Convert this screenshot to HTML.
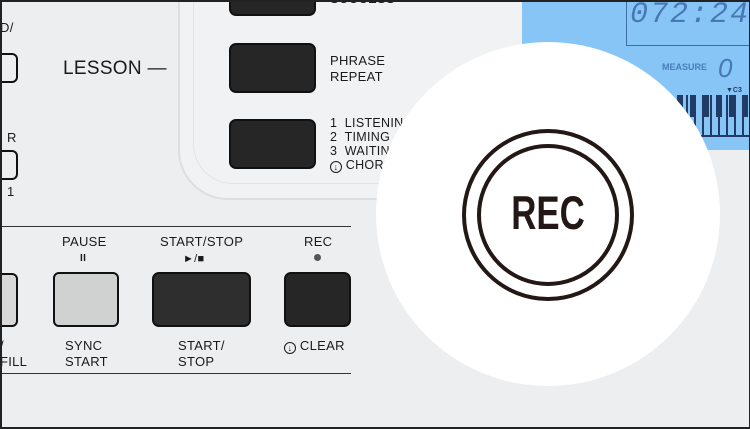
<!DOCTYPE html>
<html><head><meta charset="utf-8"><style>
body{margin:0}
#c{position:relative;width:750px;height:429px;overflow:hidden;background:#eceef0;font-family:"Liberation Sans",sans-serif;color:#222}
.t{position:absolute;font-size:13px;line-height:16px;color:#1a1a1a;letter-spacing:0.3px}
.b{position:absolute;background:#262626;border:2px solid #111;border-radius:7px;box-sizing:border-box}
.ol{position:absolute;border:2px solid #111;border-radius:6px;box-sizing:border-box}
.ci{display:inline-block;width:10px;height:10px;border:1.5px solid #1a1a1a;border-radius:50%;font-size:9px;line-height:10px;text-align:center;vertical-align:-1px;font-weight:bold}
</style></head><body><div id="c">
<div style="position:absolute;left:178px;top:-20px;width:420px;height:218px;border:2px solid #dcdee0;border-radius:0 0 0 50px;border-top:none;border-right:none;background:#f1f2f3"></div>
<div style="position:absolute;left:193px;top:-20px;width:400px;height:203px;border:1px solid #e2e3e5;border-radius:0 0 0 40px;border-top:none;border-right:none"></div>
<div class="b" style="left:229px;top:-10px;width:87px;height:26px"></div>
<div class="t" style="left:330px;top:-9px">SUCCESS</div>
<div class="b" style="left:229px;top:43px;width:87px;height:50px"></div>
<div class="t" style="left:330px;top:53px">PHRASE<br>REPEAT</div>
<div class="b" style="left:229px;top:119px;width:87px;height:50px"></div>
<div class="t" style="left:330px;top:116px;line-height:14px;font-size:12.5px">1&nbsp; LISTENING<br>2&nbsp; TIMING<br>3&nbsp; WAITING<br><span class="ci">↓</span> CHORD DICT.</div>
<div class="t" style="left:63px;top:58px;font-size:19px;line-height:22px">LESSON —</div>
<div class="t" style="left:0px;top:20px">D/</div>
<div class="ol" style="left:-10px;top:53px;width:28px;height:30px"></div>
<div class="t" style="left:7px;top:130px">R</div>
<div class="ol" style="left:-10px;top:150px;width:28px;height:30px"></div>
<div class="t" style="left:7px;top:184px">1</div>
<div style="position:absolute;left:0;top:226px;width:351px;height:1px;background:#333"></div>
<div style="position:absolute;left:0;top:373px;width:351px;height:1px;background:#333"></div>
<div class="t" style="left:62px;top:234px">PAUSE</div>
<div class="t" style="left:80px;top:251px;font-size:10px;font-weight:bold">II</div>
<div class="t" style="left:160px;top:234px">START/STOP</div>
<div class="t" style="left:183px;top:251px;font-size:11px">&#9658;/&#9632;</div>
<div class="t" style="left:304px;top:234px">REC</div>
<div style="position:absolute;left:314px;top:254px;width:7px;height:7px;border-radius:50%;background:#555"></div>
<div class="ol" style="left:-10px;top:273px;width:28px;height:54px;background:#d8d8d8"></div>
<div class="ol" style="left:53px;top:272px;width:66px;height:55px;background:#d0d1d1"></div>
<div class="b" style="left:152px;top:272px;width:99px;height:55px;background:#2e2e2e"></div>
<div class="b" style="left:284px;top:272px;width:67px;height:55px"></div>
<div class="t" style="left:0px;top:338px">/<br>FILL</div>
<div class="t" style="left:65px;top:338px">SYNC<br>START</div>
<div class="t" style="left:178px;top:338px">START/<br>STOP</div>
<div class="t" style="left:284px;top:338px"><span class="ci">↓</span> CLEAR</div>
<div style="position:absolute;left:522px;top:0;width:228px;height:150px;background:#86c5f6"></div>
<div style="position:absolute;left:626px;top:0;width:1px;height:45px;background:#3d6fa6"></div>
<div style="position:absolute;left:626px;top:45px;width:124px;height:1px;background:#3d6fa6"></div>
<div style="position:absolute;left:630px;top:-2px;font-family:'Liberation Mono',monospace;font-style:italic;font-size:30px;color:#4878b4;letter-spacing:2px">072:24</div>
<div style="position:absolute;left:662px;top:62px;font-size:9px;font-weight:bold;color:#4b7db8">MEASURE</div>
<div style="position:absolute;left:718px;top:53px;font-style:italic;font-size:26px;color:#4878b4">0</div>
<div style="position:absolute;left:672px;top:95px;width:78px;height:40px;background:repeating-linear-gradient(90deg,#86c5f6 0 6px,#1f3b66 6px 8px);border-bottom:2px solid #1f3b66"></div>
<div style="position:absolute;left:672px;top:95px;width:78px;height:22px;background:repeating-linear-gradient(90deg,transparent 0 5px,#1f3b66 5px 11px,transparent 11px 13px)"></div>
<div style="position:absolute;left:726px;top:87px;font-size:7px;font-weight:bold;color:#1f3b66">▼C3</div>
<div style="position:absolute;left:376px;top:42px;width:344px;height:344px;border-radius:50%;background:#fff"></div>
<div style="position:absolute;left:462px;top:129px;width:172px;height:172px;border-radius:50%;border:4px solid #231815;box-sizing:border-box"></div>
<div style="position:absolute;left:477px;top:144px;width:142px;height:142px;border-radius:50%;border:4px solid #231815;box-sizing:border-box"></div>
<div style="position:absolute;left:488px;top:189px;width:120px;text-align:center;font-size:47px;line-height:47px;font-weight:bold;color:#231815;transform:scaleX(0.74)">REC</div>
<div style="position:absolute;left:0;top:0;width:750px;height:429px;border:2px solid #222;border-right-width:1px;box-sizing:border-box"></div>
</div></body></html>
